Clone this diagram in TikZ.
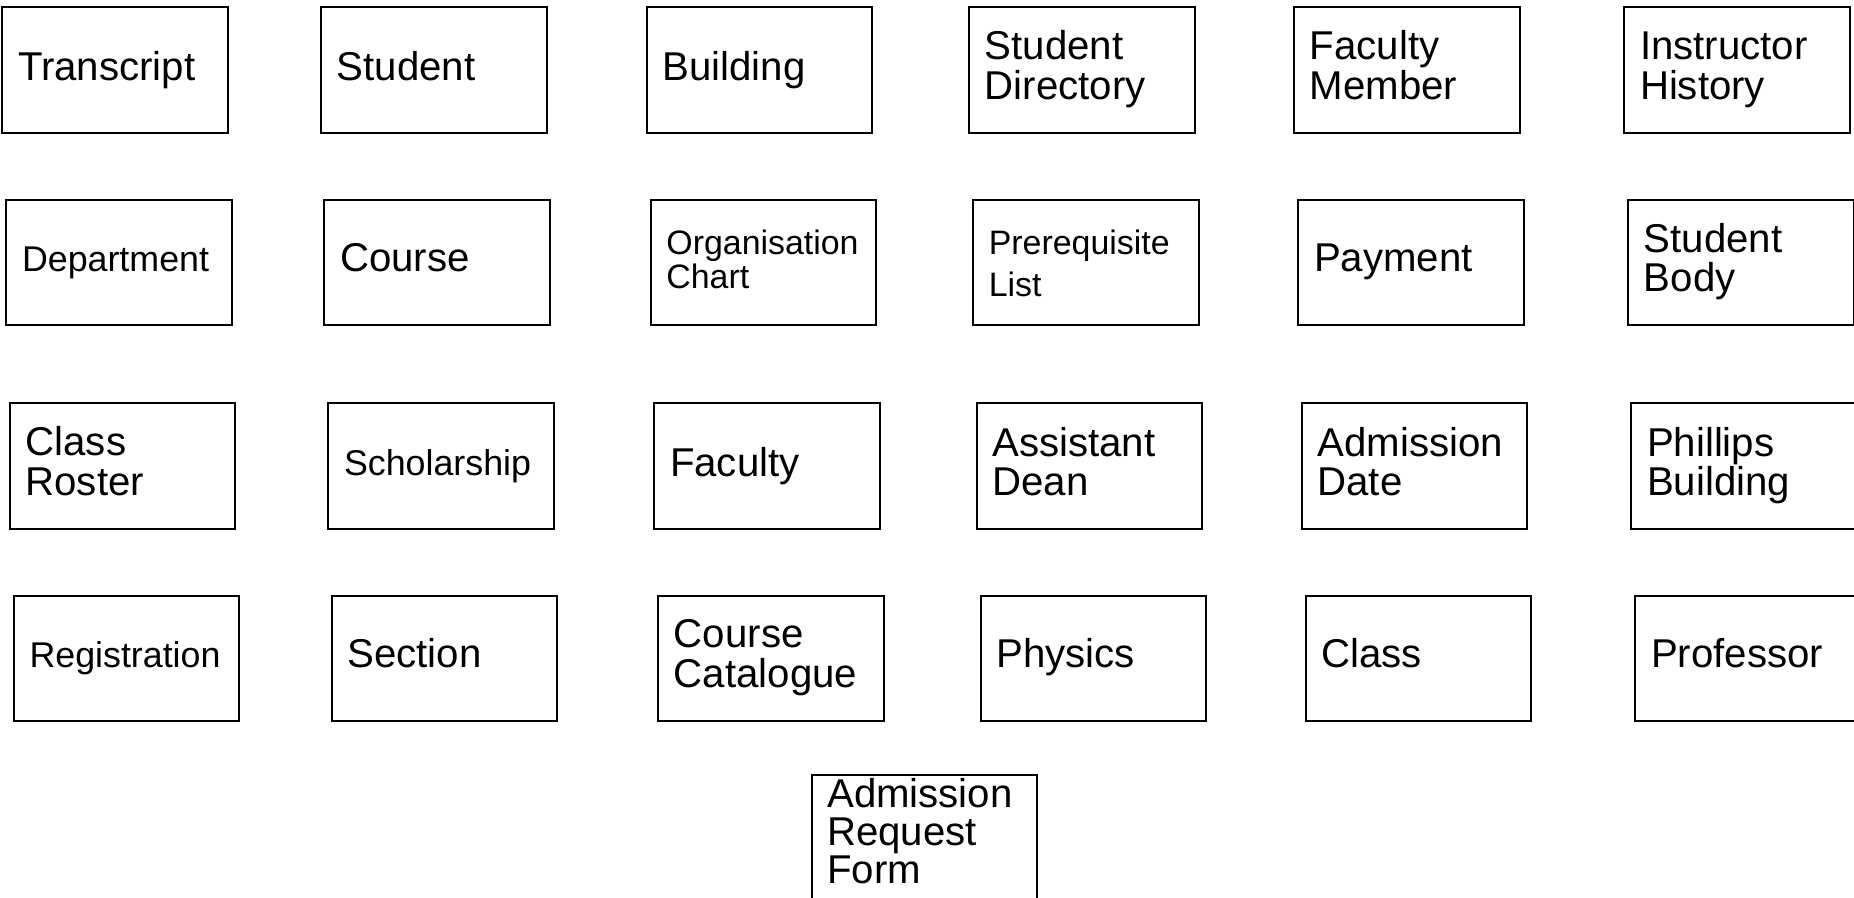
\documentclass[tikz,border=0pt]{standalone}
\usepackage{fontspec}
\setmainfont{Liberation Sans}
\tikzset{
  box/.style={draw, line width=2pt, minimum width=225.5pt, minimum height=125.4pt,
              anchor=north west, inner sep=0pt, outer sep=0pt},
  lbl/.style={anchor=base west, inner sep=0pt, align=left,
              font=\fontsize{40.2pt}{39.5pt}\selectfont},
  lblm/.style={lbl, font=\fontsize{35.8pt}{36pt}\selectfont},
  lbls/.style={lbl, font=\fontsize{33.9pt}{34.3pt}\selectfont},
  lblp/.style={lbl, font=\fontsize{33.9pt}{42pt}\selectfont},
}
\begin{document}
\begin{tikzpicture}[x=1pt,y=-1pt]
\useasboundingbox (0,0) rectangle (1854,897);
% Row 1
\node[box] (b11) at (2.4,7.3) {};
\node[lbl] (t11) at (17.9,80) {Transcript};
\node[box] (b12) at (321.2,7.3) {};
\node[lbl] (t12) at (336.7,80) {Student};
\node[box] (b13) at (646.8,7.3) {};
\node[lbl] (t13) at (662.3,80) {Building};
\node[box] (b14) at (969.2,7.3) {};
\node[lbl] (t14) at (984.7,99.3) {Student\\Directory};
\node[box] (b15) at (1294,7.3) {};
\node[lbl] (t15) at (1309.5,99.3) {Faculty\\Member};
\node[box] (b16) at (1624.3,7.3) {};
\node[lbl] (t16) at (1639.8,99.3) {Instructor\\History};
% Row 2
\node[box] (b21) at (6.3,200) {};
\node[lblm] (t21) at (21.8,271.7) {Department};
\node[box] (b22) at (324.3,200) {};
\node[lbl] (t22) at (339.8,271.7) {Course};
\node[box] (b23) at (650.7,200) {};
\node[lbls] (t23) at (666.2,288.3) {Organisation\\Chart};
\node[box] (b24) at (973.1,200) {};
\node[lblp] (t24) at (988.6,296) {Prerequisite\\List};
\node[box] (b25) at (1298.3,200) {};
\node[lbl] (t25) at (1313.8,271.7) {Payment};
\node[box] (b26) at (1628.2,200) {};
\node[lbl] (t26) at (1643.7,291.7) {Student\\Body};
% Row 3
\node[box] (b31) at (9.9,403.3) {};
\node[lbl] (t31) at (25.4,495) {Class\\Roster};
\node[box] (b32) at (328.3,403.3) {};
\node[lblm] (t32) at (343.8,475.7) {Scholarship};
\node[box] (b33) at (654.3,403.3) {};
\node[lbl] (t33) at (669.8,476.7) {Faculty};
\node[box] (b34) at (976.7,403.3) {};
\node[lbl] (t34) at (992.2,495.7) {Assistant\\Dean};
\node[box] (b35) at (1301.9,403.3) {};
\node[lbl] (t35) at (1317.4,495.7) {Admission\\Date};
\node[box] (b36) at (1631.3,403.3) {};
\node[lbl] (t36) at (1646.8,495.7) {Phillips\\Building};
% Row 4
\node[box] (b41) at (13.8,596) {};
\node[lblm] (t41) at (29.3,667.3) {Registration};
\node[box] (b42) at (331.8,596) {};
\node[lbl] (t42) at (347.3,667.3) {Section};
\node[box] (b43) at (658.2,596) {};
\node[lbl] (t43) at (673.7,687.3) {Course\\Catalogue};
\node[box] (b44) at (980.6,596) {};
\node[lbl] (t44) at (996.1,667.3) {Physics};
\node[box] (b45) at (1305.8,596) {};
\node[lbl] (t45) at (1321.3,667.3) {Class};
\node[box] (b46) at (1635.3,596) {};
\node[lbl] (t46) at (1650.8,667.3) {Professor};
% Row 5
\node[box] (b51) at (811.5,775) {};
\node[lbl, font=\fontsize{40.2pt}{38pt}\selectfont] (t51) at (827,883.3) {Admission\\Request\\Form};
\end{tikzpicture}
\end{document}
